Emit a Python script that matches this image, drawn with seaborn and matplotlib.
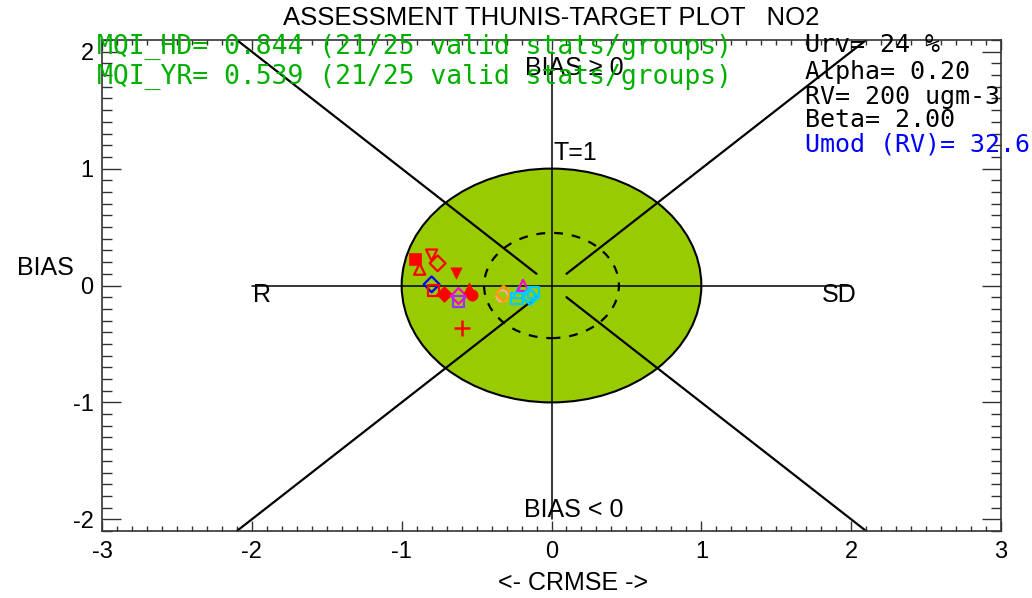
import numpy as np
import pandas as pd
import matplotlib
matplotlib.use("Agg")
import matplotlib.pyplot as plt
from matplotlib.patches import Circle
from matplotlib.ticker import MultipleLocator
import seaborn as sns

# station values (CRMSE axis, BIAS axis)
crmse = [-0.91, -0.88, -0.80, -0.76, -0.64, -0.80, -0.79, -0.72, -0.62, -0.62,
         -0.55, -0.53, -0.60, -0.33, -0.32, -0.22, -0.19, -0.23, -0.12, -0.14, -0.15]
bias = [0.23, 0.14, 0.26, 0.19, 0.11, 0.01, -0.04, -0.07, -0.09, -0.14,
        -0.02, -0.08, -0.36, -0.09, -0.07, -0.06, 0.00, -0.11, -0.06, -0.10, -0.09]
markers = ['s', '^', 'v', 'D', 'v', 'D', 's', 'D', 'D', 's',
           '^', 'o', '+', 'o', 'D', '^', '^', 's', 's', 'D', 'o']
colors = ['#ff0000', '#ff0000', '#ff0000', '#ff0000', '#ff0000', '#0000ff', '#ff0000', '#ff0000',
          '#ff00cc', '#9933ff', '#ff0000', '#ff0000', '#ff0000', '#ffaa99', '#ff9900',
          '#00ccff', '#ff00cc', '#00ccff', '#00ccff', '#00ccff', '#00ccff']
filled = [True, False, False, False, True, False, False, True, False, False,
          True, True, True, False, False, False, False, False, False, False, False]

mqi_hd = 0.844
mqi_yr = 0.539
n_valid, n_total = 21, 25
urv, alpha, rv, beta, umod = 24, 0.20, 200, 2.00, 32.6

df = pd.DataFrame({'crmse': crmse, 'bias': bias, 'marker': markers,
                   'color': colors, 'filled': filled})

sns.set_style("white")
plt.rcParams['font.family'] = ['Liberation Sans', 'DejaVu Sans']
plt.rcParams['axes.unicode_minus'] = False
plt.rcParams['text.color'] = 'black'
plt.rcParams['axes.labelcolor'] = 'black'
plt.rcParams['xtick.color'] = 'black'
plt.rcParams['ytick.color'] = 'black'

fig = plt.figure(figsize=(10.32, 5.98), dpi=100)
ax = fig.add_axes([102/1032, 67/598, 899/1032, 491/598])

# target zones
ax.add_patch(Circle((0, 0), 1.0, facecolor='#99cc00', edgecolor='black', lw=1.5, zorder=1))
ax.add_patch(Circle((0, 0), 0.45, fill=False, edgecolor='black', lw=1.6,
                    linestyle=(0, (4, 4)), zorder=2))
ax.plot([-2, 2], [0, 0], color='black', lw=1.1, zorder=2)
ax.plot([0, 0], [-2, 2], color='black', lw=1.1, zorder=2)
for sx in (-1, 1):
    for sy in (-1, 1):
        ax.plot([0.1*sx, 2.1*sx], [0.1*sy, 2.1*sy], color='black', lw=1.6, zorder=2)

for (m, c, f), g in df.groupby(['marker', 'color', 'filled'], sort=False):
    if m == '+':
        sns.scatterplot(data=g, x='crmse', y='bias', marker=m, color=c, s=120,
                        linewidth=1.8, ax=ax, zorder=4)
    elif f:
        sns.scatterplot(data=g, x='crmse', y='bias', marker=m, color=c, s=65,
                        edgecolor=c, linewidth=0.5, ax=ax, zorder=4)
    else:
        sns.scatterplot(data=g, x='crmse', y='bias', marker=m, s=65,
                        facecolor='none', edgecolor=c, linewidth=1.6, ax=ax, zorder=4)

ax.set_xlim(-3, 3)
ax.set_ylim(-2.1, 2.1)
ax.xaxis.set_major_locator(MultipleLocator(1))
ax.xaxis.set_minor_locator(MultipleLocator(0.1))
ax.yaxis.set_minor_locator(MultipleLocator(0.1))
ax.set_yticks([-2, -1, 0, 1, 2])
ax.tick_params(axis='x', which='major', direction='in', length=7, width=1, top=True,
               bottom=True, labelsize=17, pad=7, color='#333333')
ax.tick_params(axis='x', which='minor', direction='in', length=3.6, width=1, top=True,
               bottom=True, color='#333333')
ax.tick_params(axis='y', which='major', direction='in', length=13.5, width=1, left=True,
               right=True, labelsize=17, pad=6, color='#333333')
ax.tick_params(axis='y', which='minor', direction='in', length=7, width=1, left=True,
               right=True, color='#333333')
for sp in ax.spines.values():
    sp.set_color('#333333')
    sp.set_linewidth(1.2)

ax.set_xlabel('<- CRMSE ->', fontsize=18, va='center')
ax.xaxis.set_label_coords((573 - 102) / 899, (531 - 583) / 491)
ax.set_ylabel('')
fig.text(45/1032, 1 - 268/598, 'BIAS', fontsize=18, ha='center', va='center')

ax.text(0.15, 1.86, 'BIAS \u2265 0', fontsize=18, ha='center', va='center')
ax.text(0.15, -1.92, 'BIAS < 0', fontsize=18, ha='center', va='center')
ax.text(0.16, 1.13, 'T=1', fontsize=18, ha='center', va='center')
ax.text(-1.93, -0.08, 'R', fontsize=18, ha='center', va='center')
ax.text(1.92, -0.08, 'SD', fontsize=18, ha='center', va='center')

fig.text(551/1032, 1 - 18/598, 'ASSESSMENT THUNIS-TARGET PLOT   NO2', fontsize=18.5,
         ha='center', va='center')

mono = 'DejaVu Sans Mono'
fig.text(97/1032, 1 - 47/598, f'MQI_HD= {mqi_hd:.3f} ({n_valid}/{n_total} valid stats/groups)',
         fontsize=19, color='#00b000', family=mono, ha='left', va='center')
fig.text(97/1032, 1 - 77/598, f'MQI_YR= {mqi_yr:.3f} ({n_valid}/{n_total} valid stats/groups)',
         fontsize=19, color='#00b000', family=mono, ha='left', va='center')

right_lines = [f'Urv= {urv} %', f'Alpha= {alpha:.2f}', f'RV= {rv} ugm-3', f'Beta= {beta:.2f}']
for txt, py in zip(right_lines, [45, 72, 97, 120]):
    fig.text(805/1032, 1 - py/598, txt, fontsize=18, color='black', family=mono,
             ha='left', va='center')
fig.text(805/1032, 1 - 145/598, f'Umod (RV)= {umod}', fontsize=18, color='#0000ff',
         family=mono, ha='left', va='center')

fig.savefig('out.png', dpi=100)
